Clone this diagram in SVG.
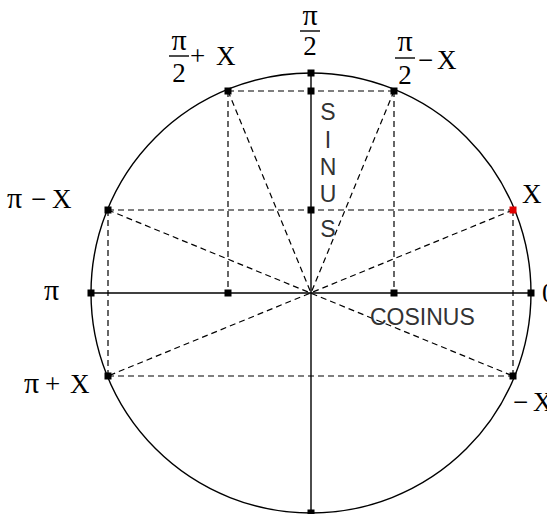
<svg xmlns="http://www.w3.org/2000/svg" width="547" height="514" viewBox="0 0 547 514">
<style>
.axis{stroke:#000;stroke-width:1.4;fill:none}
.dash{stroke:#000;stroke-width:1.2;stroke-dasharray:6 4;fill:none}
.pt{fill:#000}
.lbl{font-family:"Liberation Serif","Times New Roman",serif;font-size:27px;fill:#000}
.pi{font-size:30px}
.bar{stroke:#000;stroke-width:1.4}
.word{font-family:"Liberation Sans",Arial,sans-serif;font-size:23px;fill:#333}
</style>
<rect width="547" height="514" fill="#fff"/>
<g id="circle"><circle cx="311" cy="293" r="220" class="axis"/></g>
<g id="connectors">
<line class="axis" x1="91" y1="293" x2="531" y2="293"/>
<line class="axis" x1="311" y1="73" x2="311" y2="513"/>
<line class="dash" x1="228" y1="91" x2="394" y2="91"/>
<line class="dash" x1="108" y1="210" x2="513" y2="210"/>
<line class="dash" x1="108" y1="376" x2="513" y2="376"/>
<line class="dash" x1="228" y1="91" x2="228" y2="293"/>
<line class="dash" x1="394" y1="91" x2="394" y2="293"/>
<line class="dash" x1="108" y1="210" x2="108" y2="376"/>
<line class="dash" x1="513" y1="210" x2="513" y2="376"/>
<line class="dash" x1="228" y1="91" x2="311" y2="293"/>
<line class="dash" x1="394" y1="91" x2="311" y2="293"/>
<line class="dash" x1="108" y1="210" x2="513" y2="376"/>
<line class="dash" x1="513" y1="210" x2="108" y2="376"/>
</g>
<g id="points">
<rect class="pt" x="307.5" y="69.5" width="7" height="7"/>
<rect class="pt" x="307.5" y="509.5" width="7" height="7"/>
<rect class="pt" x="87.5" y="289.5" width="7" height="7"/>
<rect class="pt" x="527.5" y="289.5" width="7" height="7"/>
<rect class="pt" x="307.5" y="87.5" width="7" height="7"/>
<rect class="pt" x="307.5" y="206.5" width="7" height="7"/>
<rect class="pt" x="224.5" y="289.5" width="7" height="7"/>
<rect class="pt" x="390.5" y="289.5" width="7" height="7"/>
<rect class="pt" x="224.5" y="87.5" width="7" height="7"/>
<rect class="pt" x="390.5" y="87.5" width="7" height="7"/>
<rect class="pt" x="104.5" y="206.5" width="7" height="7"/>
<rect class="pt" x="104.5" y="372.5" width="7" height="7"/>
<rect class="pt" x="509.5" y="372.5" width="7" height="7"/>
<rect x="509.5" y="206.5" width="7" height="7" fill="#e00000"/>
</g>
<g id="label-pi-half">
<text class="lbl pi" x="310" y="25" text-anchor="middle">π</text>
<line class="bar" x1="300" y1="31" x2="320" y2="31"/>
<text class="lbl" x="310" y="55" text-anchor="middle">2</text>
</g>
<g id="label-pi-half-plus-x">
<text class="lbl pi" x="179" y="50" text-anchor="middle">π</text>
<line class="bar" x1="169" y1="56" x2="189" y2="56"/>
<text class="lbl" x="179" y="82" text-anchor="middle">2</text>
<text class="lbl" y="65"><tspan x="190">+</tspan><tspan x="216">X</tspan></text>
</g>
<g id="label-pi-half-minus-x">
<text class="lbl pi" x="405" y="51" text-anchor="middle">π</text>
<line class="bar" x1="395" y1="58" x2="415" y2="58"/>
<text class="lbl" x="405" y="84" text-anchor="middle">2</text>
<text class="lbl" y="69"><tspan x="418">−</tspan><tspan x="437">X</tspan></text>
</g>
<g id="label-pi-minus-x"><text class="lbl" y="208"><tspan class="pi" x="7">π</tspan><tspan x="31">−</tspan><tspan x="52">X</tspan></text></g>
<g id="label-pi"><text class="lbl pi" x="44" y="300">π</text></g>
<g id="label-pi-plus-x"><text class="lbl" y="393"><tspan class="pi" x="24">π</tspan><tspan x="45">+</tspan><tspan x="70">X</tspan></text></g>
<g id="label-x"><text class="lbl" x="522" y="203">X</text></g>
<g id="label-zero"><text class="lbl" x="542" y="302">0</text></g>
<g id="label-minus-x"><text class="lbl" y="411"><tspan x="513">−</tspan><tspan x="533">X</tspan></text></g>
<g id="label-cosinus"><text class="word" x="370" y="325">COSINUS</text></g>
<g id="label-sinus" class="word" text-anchor="middle">
<text x="328" y="120">S</text>
<text x="328" y="148">I</text>
<text x="328" y="175">N</text>
<text x="328" y="202">U</text>
<text x="328" y="237">S</text>
</g>
</svg>
